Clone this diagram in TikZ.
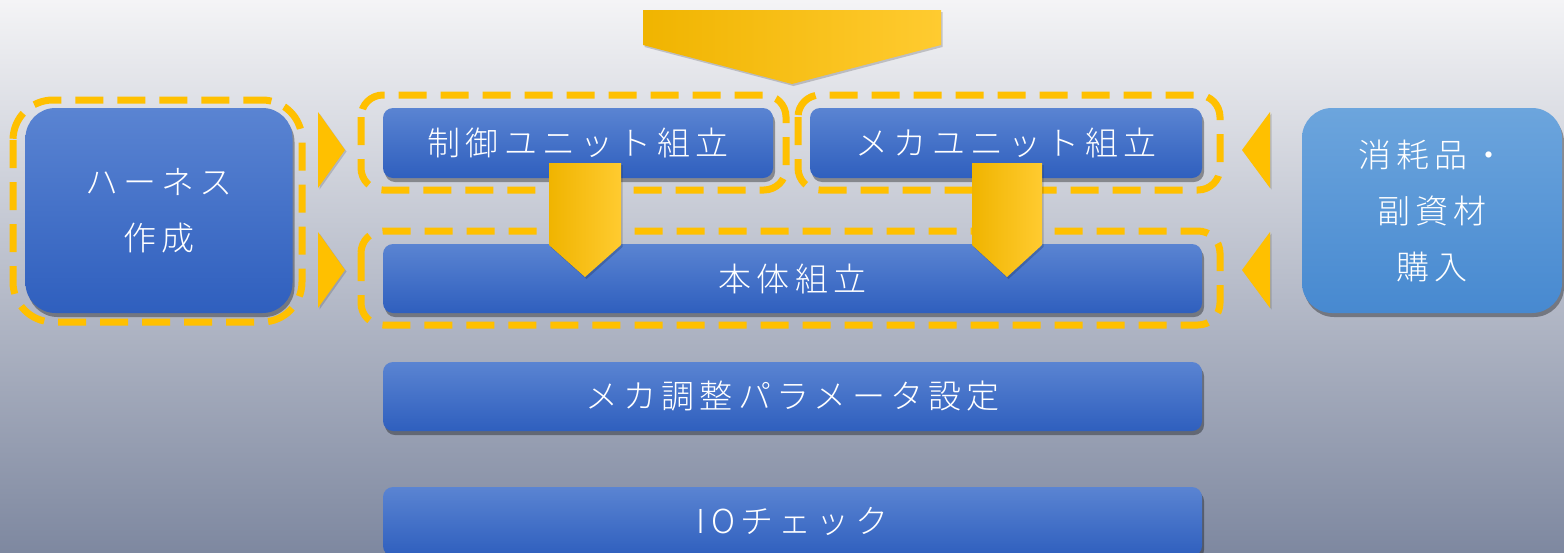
\documentclass[tikz,border=0pt]{standalone}
\usepackage{fontspec}
\setmainfont{Noto Sans CJK JP}[UprightFont=* Light, LetterSpace=16]
\usetikzlibrary{shadows}
\definecolor{bgtop}{HTML}{F4F4F6}
\definecolor{bgmid}{HTML}{D3D6DE}
\definecolor{bgbot}{HTML}{7E88A0}
\definecolor{bxtop}{HTML}{5A84D2}
\definecolor{bxbot}{HTML}{2F5FBE}
\definecolor{lbtop}{HTML}{6CA5DD}
\definecolor{lbbot}{HTML}{4789D0}
\definecolor{ylw}{HTML}{FFC000}
\definecolor{ylwa}{HTML}{F0B400}
\definecolor{ylwb}{HTML}{FFCB30}
\begin{document}
\begin{tikzpicture}[x=1pt,y=-1pt,
  box/.style={rounded corners=10pt, top color=bxtop, bottom color=bxbot, draw=none,
    text=white, font=\fontsize{33}{56}\selectfont, align=center, inner sep=0pt,
    drop shadow={shadow xshift=2pt, shadow yshift=-4pt, opacity=0.35, fill=black}},
  bigbox/.style={box, rounded corners=30pt},
  lightbox/.style={bigbox, top color=lbtop, bottom color=lbbot},
  dashbox/.style={draw=ylw, line width=7pt, dash pattern=on 28pt off 14pt, rounded corners=22pt},
  tri/.style={fill=ylw, draw=none, drop shadow={shadow xshift=1.5pt, shadow yshift=-1.5pt, opacity=0.15, fill=black}},
  blockarrow/.style={left color=ylwa, right color=ylwb, draw=none,
    drop shadow={shadow xshift=1.5pt, shadow yshift=-2pt, opacity=0.18, fill=black}}
]
\useasboundingbox (0,0) rectangle (1564,552);
\shade[top color=bgtop, middle color=bgmid, bottom color=bgbot] (0,0) rectangle (1564,552);

% dashed group frames
\draw[dashbox, rounded corners=40pt] (13,100) rectangle (302,322);
\draw[dashbox] (361,95) rectangle (786,190);
\draw[dashbox] (798,95) rectangle (1220,190);
\draw[dashbox] (361,231) rectangle (1220,325);

% boxes
\node[bigbox, minimum width=267pt, minimum height=205pt] (har) at (159,210.5) {ハーネス\\作成};
\node[lightbox, minimum width=260pt, minimum height=205pt] (con) at (1432,210.5) {消耗品・\\副資材\\購入};
\node[box, minimum width=390pt, minimum height=70pt] (ctl) at (578,143) {制御ユニット組立};
\node[box, minimum width=392pt, minimum height=70pt] (mec) at (1006,143) {メカユニット組立};
\node[box, minimum width=819pt, minimum height=69pt] (body) at (792.5,278.5) {本体組立};
\node[box, minimum width=819pt, minimum height=69pt] (par) at (792.5,396.5) {メカ調整パラメータ設定};
\node[box, minimum width=819pt, minimum height=69pt] (io) at (792.5,521.5) {IOチェック};

% top chevron
\path[blockarrow] (643,10) -- (941,10) -- (941,45) -- (792,84) -- (643,45) -- cycle;

% side triangles
\fill[tri] (318,112) -- (345,150) -- (318,188) -- cycle;
\fill[tri] (318,232) -- (345,270) -- (318,308) -- cycle;
\fill[tri] (1270,112) -- (1242,150) -- (1270,188) -- cycle;
\fill[tri] (1270,232) -- (1242,270) -- (1270,308) -- cycle;

% down arrows
\path[blockarrow] (549,163) -- (621,163) -- (621,245) -- (585,277) -- (549,245) -- cycle;
\path[blockarrow] (972,163) -- (1042,163) -- (1042,245) -- (1007,277) -- (972,245) -- cycle;
\end{tikzpicture}
\end{document}
